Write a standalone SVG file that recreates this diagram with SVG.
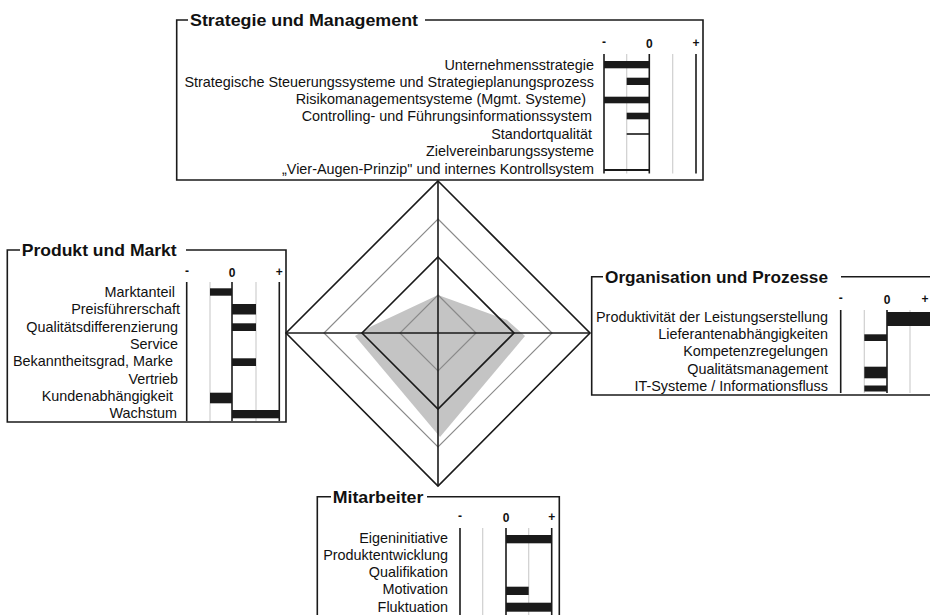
<svg xmlns="http://www.w3.org/2000/svg" width="930" height="615" viewBox="0 0 930 615">
<style>
.bg{fill:#fff}
.frame{fill:none;stroke:#1a1a1a;stroke-width:1.6}
.title{font-family:"Liberation Sans",Arial,sans-serif;font-weight:bold;font-size:17px;fill:#111}
.lbl{font-family:"Liberation Sans",Arial,sans-serif;font-size:14.4px;fill:#111;text-anchor:end}
.ax{font-family:"Liberation Sans",Arial,sans-serif;font-weight:bold;font-size:12px;fill:#111;text-anchor:middle}
.vk{stroke:#1a1a1a;stroke-width:1.6}
.vg{stroke:#cfcfcf;stroke-width:1.2}
.bar{fill:#1a1a1a}
.dk{fill:none;stroke:#1a1a1a;stroke-width:1.6}
.lt{fill:none;stroke:#8a8a8a;stroke-width:1.2}
</style>
<rect class="bg" x="0" y="0" width="930" height="615"/>

<g id="radar">
<polygon points="438,295 372,326 355,336 440,437 525,336 507,320" fill="#c4c4c4"/>
<polygon class="lt" points="438,295 476,333 438,371 400,333"/>
<polygon class="dk" points="438,257 514,333 438,409 362,333"/>
<polygon class="lt" points="438,219 552,333 438,447 324,333"/>
<polygon class="dk" points="438,181 590,333 438,486 286,333"/>
<line class="vk" x1="286" y1="333" x2="590" y2="333"/>
<line class="vk" x1="438" y1="181" x2="438" y2="486"/>
</g>

<g id="box-strategie">
<path class="frame" d="M188,20 H176.7 V180 H703 V20 H425"/>
<text class="title" x="190" y="26" textLength="228" lengthAdjust="spacingAndGlyphs">Strategie und Management</text>
<text class="ax" x="604" y="46">-</text>
<text class="ax" x="649.3" y="47.5">0</text>
<text class="ax" x="696" y="47">+</text>
<line class="vg" x1="626.7" y1="54" x2="626.7" y2="173.5"/>
<line class="vg" x1="672.7" y1="54" x2="672.7" y2="173.5"/>
<line class="vk" x1="604" y1="54" x2="604" y2="173.5"/>
<line class="vk" x1="649.3" y1="54" x2="649.3" y2="173.5"/>
<line class="vk" x1="696" y1="54" x2="696" y2="173.5"/>
<rect class="bar" x="604" y="61" width="45.3" height="7.3"/>
<rect class="bar" x="626.7" y="77.7" width="22.6" height="7.3"/>
<rect class="bar" x="604" y="96.7" width="45.3" height="6.6"/>
<rect class="bar" x="626.7" y="112.7" width="22.6" height="6.6"/>
<rect class="bar" x="626.7" y="133.2" width="22.6" height="1.6"/>
<rect class="bar" x="604" y="169" width="45.3" height="2"/>
<text class="lbl" x="594" y="69.5">Unternehmensstrategie</text>
<text class="lbl" x="594" y="86.5">Strategische Steuerungssysteme und Strategieplanungsprozess</text>
<text class="lbl" x="586" y="104">Risikomanagementsysteme (Mgmt. Systeme)</text>
<text class="lbl" x="592" y="121">Controlling- und Führungsinformationssystem</text>
<text class="lbl" x="592" y="138.5">Standortqualität</text>
<text class="lbl" x="594" y="156">Zielvereinbarungssysteme</text>
<text class="lbl" x="594" y="173.5">„Vier-Augen-Prinzip" und internes Kontrollsystem</text>
</g>

<g id="box-produkt">
<path class="frame" d="M20,250 H7.3 V422 H286 V250 H186"/>
<text class="title" x="21.7" y="256" textLength="155" lengthAdjust="spacingAndGlyphs">Produkt und Markt</text>
<text class="ax" x="187" y="275">-</text>
<text class="ax" x="232" y="277">0</text>
<text class="ax" x="279.3" y="276">+</text>
<line class="vg" x1="210" y1="282" x2="210" y2="421"/>
<line class="vg" x1="256" y1="282" x2="256" y2="421"/>
<line class="vk" x1="186.7" y1="282" x2="186.7" y2="421"/>
<line class="vk" x1="232" y1="282" x2="232" y2="421"/>
<line class="vk" x1="279.3" y1="282" x2="279.3" y2="421"/>
<rect class="bar" x="210" y="288.3" width="22" height="7.4"/>
<rect class="bar" x="232" y="304" width="24" height="10.5"/>
<rect class="bar" x="232" y="323.3" width="24" height="7.7"/>
<rect class="bar" x="232" y="358.3" width="24" height="7.7"/>
<rect class="bar" x="210" y="392.7" width="22" height="10.6"/>
<rect class="bar" x="232" y="410" width="47.3" height="8.3"/>
<text class="lbl" x="175" y="297">Marktanteil</text>
<text class="lbl" x="180" y="314.3">Preisführerschaft</text>
<text class="lbl" x="178" y="331.6">Qualitätsdifferenzierung</text>
<text class="lbl" x="178" y="348.9">Service</text>
<text class="lbl" x="173" y="366.2">Bekanntheitsgrad, Marke</text>
<text class="lbl" x="178" y="383.5">Vertrieb</text>
<text class="lbl" x="173" y="400.8">Kundenabhängigkeit</text>
<text class="lbl" x="177" y="418">Wachstum</text>
</g>

<g id="box-organisation">
<path class="frame" d="M603,276.7 H591.7 V395 H935 V276.7 H841"/>
<text class="title" x="605" y="283" textLength="223" lengthAdjust="spacingAndGlyphs">Organisation und Prozesse</text>
<text class="ax" x="840.7" y="302">-</text>
<text class="ax" x="887" y="304">0</text>
<text class="ax" x="925" y="303">+</text>
<line class="vg" x1="864.3" y1="310" x2="864.3" y2="393"/>
<line class="vg" x1="910" y1="310" x2="910" y2="393"/>
<line class="vk" x1="840.7" y1="310" x2="840.7" y2="393"/>
<line class="vk" x1="887" y1="310" x2="887" y2="393"/>
<rect class="bar" x="887" y="312" width="45" height="14"/>
<rect class="bar" x="864.3" y="334.3" width="22.7" height="6.7"/>
<rect class="bar" x="864.3" y="366.7" width="22.7" height="11.6"/>
<rect class="bar" x="864.3" y="385.5" width="22.7" height="6"/>
<text class="lbl" x="828" y="322">Produktivität der Leistungserstellung</text>
<text class="lbl" x="828" y="339.2">Lieferantenabhängigkeiten</text>
<text class="lbl" x="828" y="356.4">Kompetenzregelungen</text>
<text class="lbl" x="828" y="373.6">Qualitätsmanagement</text>
<text class="lbl" x="828" y="390.8">IT-Systeme / Informationsfluss</text>
</g>

<g id="box-mitarbeiter">
<path class="frame" d="M331,496.7 H317.3 V620 H559.3 V496.7 H427"/>
<text class="title" x="332.7" y="503" textLength="90.7" lengthAdjust="spacingAndGlyphs">Mitarbeiter</text>
<text class="ax" x="460" y="520">-</text>
<text class="ax" x="506" y="522">0</text>
<text class="ax" x="551.7" y="521">+</text>
<line class="vg" x1="482.7" y1="528" x2="482.7" y2="615"/>
<line class="vg" x1="528.7" y1="528" x2="528.7" y2="615"/>
<line class="vk" x1="460" y1="528" x2="460" y2="615"/>
<line class="vk" x1="506" y1="528" x2="506" y2="615"/>
<line class="vk" x1="551.7" y1="528" x2="551.7" y2="615"/>
<rect class="bar" x="506" y="535" width="45.7" height="8.3"/>
<rect class="bar" x="506" y="586.7" width="22.7" height="8.3"/>
<rect class="bar" x="506" y="602.7" width="45.7" height="9"/>
<text class="lbl" x="448" y="543.3">Eigeninitiative</text>
<text class="lbl" x="448" y="560">Produktentwicklung</text>
<text class="lbl" x="448" y="576.7">Qualifikation</text>
<text class="lbl" x="448" y="594.3">Motivation</text>
<text class="lbl" x="448" y="611.7">Fluktuation</text>
</g>
</svg>
